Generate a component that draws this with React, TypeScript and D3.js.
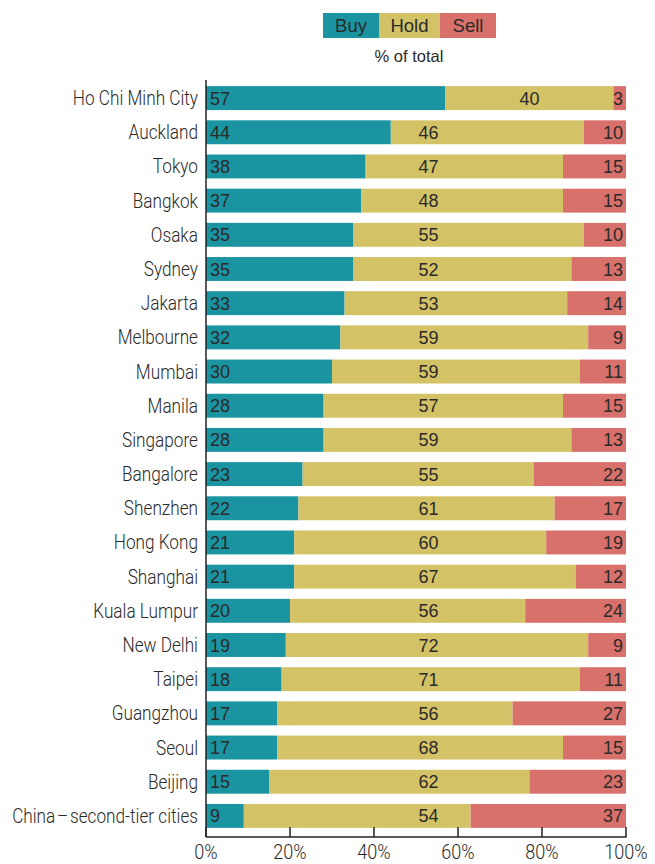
import React from "react";
import * as d3 from "d3";

const categories = [
  "Ho Chi Minh City", "Auckland", "Tokyo", "Bangkok", "Osaka", "Sydney", "Jakarta",
  "Melbourne", "Mumbai", "Manila", "Singapore", "Bangalore", "Shenzhen", "Hong Kong",
  "Shanghai", "Kuala Lumpur", "New Delhi", "Taipei", "Guangzhou", "Seoul", "Beijing",
  "China\u200a–\u200asecond-tier cities",
];
const buy = [57, 44, 38, 37, 35, 35, 33, 32, 30, 28, 28, 23, 22, 21, 21, 20, 19, 18, 17, 17, 15, 9];
const hold = [40, 46, 47, 48, 55, 52, 53, 59, 59, 57, 59, 55, 61, 60, 67, 56, 72, 71, 56, 68, 62, 54];
const sell = [3, 10, 15, 15, 10, 13, 14, 9, 11, 15, 13, 22, 17, 19, 12, 24, 9, 11, 27, 15, 23, 37];
const seriesNames = ["Buy", "Hold", "Sell"];
const tickValues = [0, 20, 40, 60, 80, 100];

const COLORS: Record<string, string> = { Buy: "#1b94a1", Hold: "#d3c366", Sell: "#d8716b" };
const condensed = "Roboto, 'Liberation Sans', sans-serif";
const sans = "'Liberation Sans', Arial, sans-serif";
const HOLD_LABEL_AT = 53; // % position where Hold labels are aligned when inside the segment

export default function App() {
  const W = 655, H = 864;
  const x = d3.scaleLinear().domain([0, 100]).range([206, 626]);
  const y = d3.scaleBand<string>().domain(categories).range([81, 833]).paddingInner(0.3).paddingOuter(0.15);
  const rows = categories.map((c, i) => ({ c, Buy: buy[i], Hold: hold[i], Sell: sell[i] }));
  const stacked = d3.stack<any>().keys(seriesNames)(rows);
  const axisY = 837;
  const legendX = d3.scaleOrdinal<string, number>().domain(seriesNames).range([323, 379, 440]);
  const legendW: Record<string, number> = { Buy: 56, Hold: 61, Sell: 56 };
  const sx = 0.86;

  return (
    <svg width={W} height={H} style={{ position: "absolute", left: 0, top: 0, background: "#fff" }}>
      {/* legend */}
      {seriesNames.map((s) => (
        <g key={s}>
          <rect x={legendX(s)} y={13} width={legendW[s]} height={25} fill={COLORS[s]} />
          <text x={legendX(s) + legendW[s] / 2} y={32} textAnchor="middle" fontFamily={sans} fontSize={18.5} fill="#2a2a2a">{s}</text>
        </g>
      ))}
      <text x={409} y={62} textAnchor="middle" fontFamily={sans} fontSize={16.5} fill="#2a2a2a">% of total</text>

      {/* bars */}
      {stacked.map((layer) => (
        <g key={layer.key} fill={COLORS[layer.key]}>
          {layer.map((d, i) => (
            <rect key={i} x={x(d[0])} y={y(categories[i])} width={x(d[1]) - x(d[0])} height={y.bandwidth()} />
          ))}
        </g>
      ))}

      {/* value labels */}
      {rows.map((r) => {
        const cy = (y(r.c) as number) + y.bandwidth() / 2 + 6.5;
        const h0 = r.Buy, h1 = r.Buy + r.Hold;
        const hx = HOLD_LABEL_AT > h0 + 4 && HOLD_LABEL_AT < h1 - 4 ? HOLD_LABEL_AT : (h0 + h1) / 2;
        return (
          <g key={r.c} fontFamily={sans} fontSize={18} fill="#2a2a2a">
            <text x={x(0) + 4} y={cy}>{r.Buy}</text>
            <text x={x(hx)} y={cy} textAnchor="middle">{r.Hold}</text>
            <text x={x(100) - 3} y={cy} textAnchor="end">{r.Sell}</text>
          </g>
        );
      })}

      {/* category labels */}
      {categories.map((c) => (
        <text key={c} transform={`translate(198,${(y(c) as number) + y.bandwidth() / 2 + 7}) scale(${sx},1)`} textAnchor="end" fontFamily={condensed} fontWeight={300} fontSize={20} fill="#2a2a2a">{c}</text>
      ))}

      {/* axes */}
      <line x1={206} x2={206} y1={80} y2={axisY} stroke="#222" strokeWidth={1.5} />
      <line x1={206} x2={626.5} y1={axisY} y2={axisY} stroke="#222" strokeWidth={1.5} />
      {tickValues.map((t) => (
        <g key={t}>
          <line x1={x(t)} x2={x(t)} y1={axisY - 10} y2={axisY} stroke="#222" strokeWidth={1.5} />
          <text transform={`translate(${x(t)},859) scale(${sx},1)`} textAnchor="middle" fontFamily={condensed} fontWeight={300} fontSize={21} fill="#2a2a2a">{t}%</text>
        </g>
      ))}
    </svg>
  );
}
